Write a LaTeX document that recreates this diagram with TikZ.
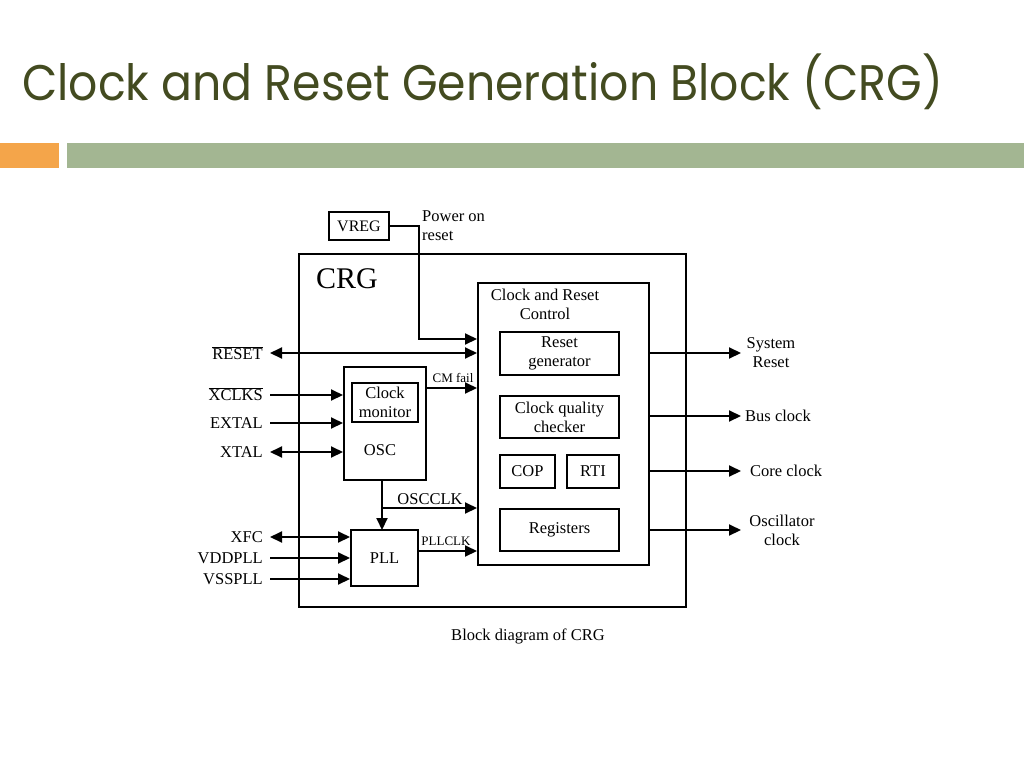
\documentclass[tikz,border=0pt]{standalone}
\usepackage{fontspec}
\setmainfont{Liberation Serif}
\newfontfamily\titlefont{Poppins}
\usetikzlibrary{arrows.meta}
\definecolor{titlecol}{HTML}{434B20}
\definecolor{barorange}{HTML}{F4A54A}
\definecolor{bargreen}{HTML}{A3B692}
\tikzset{
  blk/.style={draw, line width=2pt, fill=white, inner sep=0pt},
  wire/.style={line width=2pt},
  arr/.style={wire, -{Triangle[length=12pt,width=11pt]}},
  barr/.style={wire, {Triangle[length=12pt,width=11pt]}-{Triangle[length=12pt,width=11pt]}},
  lbl/.style={font=\fontsize{16.5}{19}\selectfont, inner sep=0pt, align=center},
  slbl/.style={font=\fontsize{13}{14}\selectfont, inner sep=0pt},
}
\begin{document}
\begin{tikzpicture}[x=1pt,y=-1pt]
\useasboundingbox (0,0) rectangle (1024,768);
% title and bars
\node[anchor=west, text=titlecol, inner sep=0pt] (title) at (22,82)
  {\titlefont\scalebox{0.915}[1]{\fontsize{50}{55}\selectfont Clock and Reset Generation Block (CRG)}};
\fill[barorange] (0,143) rectangle (59,168);
\fill[bargreen] (67,143) rectangle (1024,168);

% boxes
\draw[blk] (299,254) rectangle (686,607);
\node[font=\fontsize{30}{31}\selectfont, anchor=west, inner sep=0pt] (crg) at (316,279) {CRG};
\node[blk, minimum width=60pt, minimum height=28pt, font=\fontsize{16}{17}\selectfont] (vreg) at (359,226) {VREG};
\node[lbl, anchor=north west, align=left] (por) at (422,210) {Power on\\reset};

\node[blk, minimum width=171pt, minimum height=282pt] (crc) at (563.5,424) {};
\node[lbl, anchor=north] (crct) at (545,289) {Clock and Reset\\Control};
\node[blk, minimum width=119pt, minimum height=43pt, lbl, inner sep=0pt] (rg) at (559.5,353.5) {Reset\\generator};
\node[blk, minimum width=119pt, minimum height=42pt, lbl, inner sep=0pt] (cq) at (559.5,417) {Clock quality\\checker};
\node[blk, minimum width=55pt, minimum height=33pt, lbl, inner sep=0pt] (cop) at (527.5,471.5) {COP};
\node[blk, minimum width=52pt, minimum height=33pt, lbl, inner sep=0pt] (rti) at (593,471.5) {RTI};
\node[blk, minimum width=119pt, minimum height=42pt, lbl, inner sep=0pt] (regs) at (559.5,530) {Registers};

\node[blk, minimum width=82pt, minimum height=113pt] (osc) at (385,423.5) {};
\node[blk, minimum width=66pt, minimum height=39pt, lbl, inner sep=0pt] (cm) at (385,402.5) {Clock\\monitor};
\node[lbl] (osct) at (380,450) {OSC};
\node[blk, minimum width=67pt, minimum height=56pt, lbl, inner sep=0pt] (pll) at (384.5,558) {PLL};

% VREG -> CRC
\coordinate (vx) at (419,226);
\draw[arr] (vreg.east) -- (vx) |- (crc.west |- 0,339);

% left inputs
\coordinate (rst) at (270,353);
\node[lbl, anchor=east] (rstl) at (263,353) {$\overline{\hbox{RESET}}$};
\draw[barr] (rst) -- (crc.west |- rst);

\coordinate (xck) at (270,395);
\node[lbl, anchor=east] (xckl) at (263,394) {$\overline{\hbox{XCLKS}}$};
\draw[arr] (xck) -- (osc.west |- xck);
\coordinate (ext) at (270,423);
\node[lbl, anchor=east] (extl) at (263,423) {EXTAL};
\draw[arr] (ext) -- (osc.west |- ext);
\coordinate (xtl) at (270,452);
\node[lbl, anchor=east] (xtll) at (263,452) {XTAL};
\draw[barr] (xtl) -- (osc.west |- xtl);

\coordinate (xfc) at (270,537);
\node[lbl, anchor=east] (xfcl) at (263,537) {XFC};
\draw[barr] (xfc) -- (pll.west |- xfc);
\coordinate (vdd) at (270,558);
\node[lbl, anchor=east] (vddl) at (263,558) {VDDPLL};
\draw[arr] (vdd) -- (pll.west |- vdd);
\coordinate (vss) at (270,579);
\node[lbl, anchor=east] (vssl) at (263,579) {VSSPLL};
\draw[arr] (vss) -- (pll.west |- vss);

% OSC outputs
\draw[arr] (osc.east |- 0,388) -- (crc.west |- 0,388);
\node[slbl, anchor=south] (cmf) at (453,383) {CM fail};
\coordinate (oc) at (382,508);
\draw[wire] (382,480) -- (oc);
\draw[arr] (oc) -- (382,530);
\draw[arr] (oc) -- (crc.west |- oc);
\node[lbl, anchor=south] (occ) at (430,505) {OSCCLK};
\draw[arr] (pll.east |- 0,551) -- (crc.west |- 0,551);
\node[slbl, anchor=south] (plc) at (446,546) {PLLCLK};

% outputs
\coordinate (o1) at (741,353);
\coordinate (o2) at (741,416);
\coordinate (o3) at (741,471);
\coordinate (o4) at (741,530);
\draw[arr] (crc.east |- o1) -- (o1);
\draw[arr] (crc.east |- o2) -- (o2);
\draw[arr] (crc.east |- o3) -- (o3);
\draw[arr] (crc.east |- o4) -- (o4);
\node[lbl] (o1l) at (771,353) {System\\Reset};
\node[lbl, anchor=west] (o2l) at (745,416) {Bus clock};
\node[lbl, anchor=west] (o3l) at (750,471) {Core clock};
\node[lbl] (o4l) at (782,530) {Oscillator\\clock};

\node[lbl] (cap) at (528,636) {Block diagram of CRG};
\end{tikzpicture}
\end{document}
